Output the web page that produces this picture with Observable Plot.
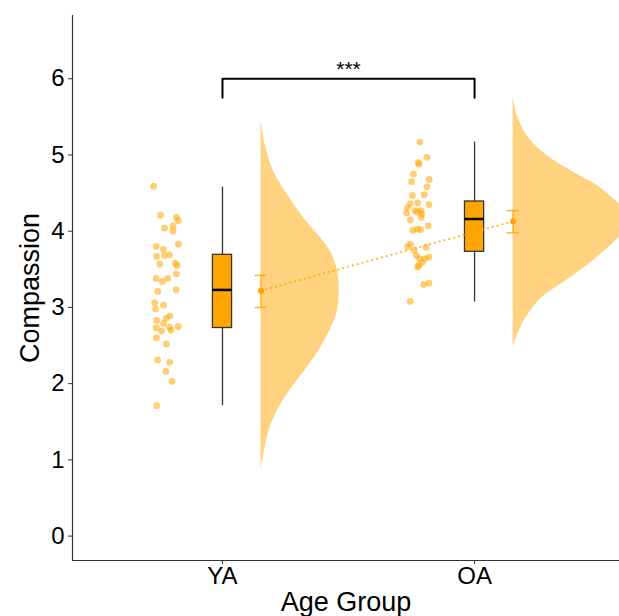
<!DOCTYPE html>
<html>
<head>
<meta charset="utf-8">
<script src="https://cdn.jsdelivr.net/npm/d3@7"></script>
<script src="https://cdn.jsdelivr.net/npm/@observablehq/plot@0.6"></script>
<style>
  html, body { margin: 0; padding: 0; background: #fff; }
  #chart svg { display: block; }
</style>
</head>
<body>
<div id="chart"></div>
<script>
// ---------- data ----------
const groups = ["YA", "OA"];
const groupPos = [1, 2];

// raw points: jitter offset (x units from group centre) and Compassion value
const yaJitter = [-0.273,-0.246,-0.183,-0.175,-0.230,-0.196,-0.197,-0.175,-0.263,-0.234,-0.261,-0.231,-0.210,-0.249,-0.187,-0.180,-0.183,-0.263,-0.239,-0.217,-0.184,-0.257,-0.269,-0.234,-0.265,-0.208,-0.261,-0.223,-0.234,-0.263,-0.242,-0.210,-0.204,-0.176,-0.262,-0.223,-0.257,-0.210,-0.225,-0.200,-0.261];
const yaValues = [4.59,4.21,4.18,4.14,4.04,4.07,4.00,3.83,3.80,3.76,3.67,3.68,3.69,3.57,3.58,3.55,3.44,3.38,3.34,3.38,3.23,3.21,3.06,3.03,2.98,2.89,2.83,2.86,2.79,2.73,2.69,2.74,2.70,2.75,2.60,2.52,2.31,2.28,2.16,2.03,1.71];
const oaJitter = [-0.217,-0.189,-0.223,-0.221,-0.242,-0.180,-0.250,-0.189,-0.200,-0.247,-0.255,-0.226,-0.181,-0.266,-0.237,-0.213,-0.210,-0.226,-0.270,-0.255,-0.212,-0.245,-0.226,-0.214,-0.184,-0.255,-0.266,-0.192,-0.239,-0.231,-0.218,-0.181,-0.197,-0.208,-0.221,-0.226,-0.181,-0.202,-0.255];
const oaValues = [5.17,4.97,4.90,4.88,4.75,4.68,4.65,4.58,4.48,4.47,4.36,4.37,4.35,4.31,4.27,4.27,4.23,4.25,4.24,4.15,4.18,4.01,4.03,4.02,4.07,3.83,3.80,3.79,3.75,3.68,3.64,3.66,3.64,3.59,3.55,3.53,3.32,3.30,3.08];

// box-plot statistics
const whiskerLow  = [1.71, 3.07];
const quart1      = [2.73, 3.73];
const medians     = [3.23, 4.16];
const quart3      = [3.69, 4.39];
const whiskerHigh = [4.58, 5.17];

// means with error bars
const means   = [3.22, 4.13];
const errLow  = [3.00, 3.98];
const errHigh = [3.42, 4.27];

// half-violin outlines: value and width (x units)
const yaViolinY = [5.45,5.14,4.79,4.49,4.18,3.92,3.70,3.48,3.22,2.96,2.70,2.39,2.09,1.78,1.48,1.17,0.86];
const yaViolinW = [0,0.016,0.049,0.102,0.168,0.234,0.281,0.303,0.310,0.303,0.274,0.221,0.155,0.088,0.042,0.016,0];
const oaViolinY = [5.78,5.52,5.25,4.99,4.77,4.60,4.42,4.24,4.14,4.01,3.81,3.55,3.33,3.11,2.85,2.63,2.48];
const oaViolinW = [0,0.016,0.056,0.135,0.241,0.333,0.400,0.456,0.472,0.448,0.386,0.294,0.201,0.108,0.049,0.016,0];

// significance annotation
const sigLabel = "***";
const sigLow = 5.75, sigHigh = 6.0, sigText = 6.12;

const yTicks = [0, 1, 2, 3, 4, 5, 6];

// ---------- build tables ----------
const pts = [
  ...yaValues.map((v, i) => ({x: groupPos[0] + yaJitter[i], y: v})),
  ...oaValues.map((v, i) => ({x: groupPos[1] + oaJitter[i], y: v}))
];
const boxes = groups.map((g, i) => ({
  g, x: groupPos[i], lo: whiskerLow[i], q1: quart1[i], med: medians[i], q3: quart3[i], hi: whiskerHigh[i],
  mean: means[i], eLo: errLow[i], eHi: errHigh[i]
}));
const violinOffset = 0.153;
const violins = [
  ...yaViolinY.map((y, i) => ({g: "YA", y, x1: groupPos[0] + violinOffset, x2: groupPos[0] + violinOffset + yaViolinW[i]})),
  ...oaViolinY.map((y, i) => ({g: "OA", y, x1: groupPos[1] + violinOffset, x2: groupPos[1] + violinOffset + oaViolinW[i]}))
];
const boxHalf = 0.038;
const capHalf = 0.024;
const bracket = [
  {x: groupPos[0], y: sigLow}, {x: groupPos[0], y: sigHigh},
  {x: groupPos[1], y: sigHigh}, {x: groupPos[1], y: sigLow}
];

const xDomain = [0.405, 2.575];
const yDomain = [-0.32, 6.83];
const font = "'Liberation Sans', Arial, Helvetica, sans-serif";

const chart = Plot.plot({
  width: 619,
  height: 616,
  marginLeft: 72,
  marginRight: 0,
  marginTop: 15,
  marginBottom: 56,
  style: {fontFamily: font, fontSize: "24px", color: "black", background: "white", overflow: "hidden"},
  x: {domain: xDomain, axis: null},
  y: {domain: yDomain, axis: null},
  marks: [
    // violins
    Plot.areaX(violins, {y: "y", x1: "x1", x2: "x2", z: "g", fill: "orange", fillOpacity: 0.5, curve: "catmull-rom"}),
    // raw points
    Plot.dot(pts, {x: "x", y: "y", r: 3.4, fill: "orange", fillOpacity: 0.55, stroke: "none"}),
    // whiskers
    Plot.ruleX(boxes, {x: "x", y1: "lo", y2: "hi", stroke: "#333", strokeWidth: 1.3}),
    // boxes
    Plot.rect(boxes, {x1: d => d.x - boxHalf, x2: d => d.x + boxHalf, y1: "q1", y2: "q3", fill: "orange", stroke: "#333", strokeWidth: 1.3}),
    Plot.ruleY(boxes, {y: "med", x1: d => d.x - boxHalf, x2: d => d.x + boxHalf, stroke: "black", strokeWidth: 2.5}),
    // mean line
    Plot.line(boxes, {x: d => d.x + violinOffset, y: "mean", stroke: "orange", strokeOpacity: 0.75, strokeWidth: 2, strokeDasharray: "0.5,4.5", strokeLinecap: "round"}),
    // error bars
    Plot.ruleX(boxes, {x: d => d.x + violinOffset, y1: "eLo", y2: "eHi", stroke: "orange", strokeOpacity: 0.8, strokeWidth: 1.5}),
    Plot.ruleY(boxes, {y: "eLo", x1: d => d.x + violinOffset - capHalf, x2: d => d.x + violinOffset + capHalf, stroke: "orange", strokeOpacity: 0.8, strokeWidth: 1.5}),
    Plot.ruleY(boxes, {y: "eHi", x1: d => d.x + violinOffset - capHalf, x2: d => d.x + violinOffset + capHalf, stroke: "orange", strokeOpacity: 0.8, strokeWidth: 1.5}),
    Plot.dot(boxes, {x: d => d.x + violinOffset, y: "mean", r: 3, fill: "orange", stroke: "none"}),
    // significance bracket
    Plot.line(bracket, {x: "x", y: "y", stroke: "black", strokeWidth: 2}),
    Plot.text([sigLabel], {x: (groupPos[0] + groupPos[1]) / 2, y: sigText, text: d => d, fontSize: 21, fill: "black"}),
    // axis lines
    Plot.ruleX([xDomain[0]], {stroke: "#333", strokeWidth: 1.2}),
    Plot.ruleY([yDomain[0]], {stroke: "#333", strokeWidth: 1.2}),
    // axes
    Plot.axisY({ticks: yTicks, tickSize: 4, tickPadding: 4, label: null, fontSize: 24, stroke: "#333"}),
    Plot.axisX({ticks: groupPos, tickFormat: (d) => groups[groupPos.indexOf(d)], tickSize: 4, tickPadding: 2, label: null, fontSize: 24, stroke: "#333"}),
    // axis titles
    Plot.text(["Age Group"], {frameAnchor: "bottom", dy: 42, text: d => d, fontSize: 27, fill: "black", textAnchor: "middle", lineAnchor: "middle"}),
    Plot.text(["Compassion"], {frameAnchor: "left", dx: -42, rotate: -90, text: d => d, fontSize: 27, fill: "black", textAnchor: "middle", lineAnchor: "middle"})
  ]
});
document.getElementById("chart").appendChild(chart);
</script>
</body>
</html>
